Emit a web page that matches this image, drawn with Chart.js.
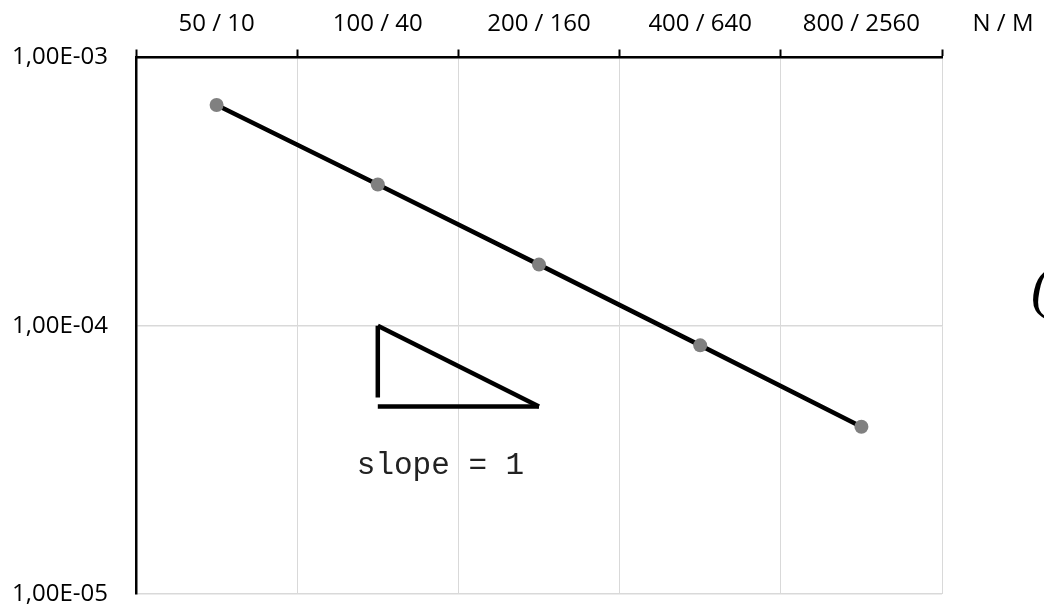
<!DOCTYPE html>
<html>
<head>
<meta charset="utf-8">
<script src="https://cdn.jsdelivr.net/npm/chart.js@4"></script>
<style>
  html, body { margin: 0; padding: 0; background: #fff; }
  #wrap { width: 1044px; height: 607px; position: relative; }
</style>
</head>
<body>
<div id="wrap"><canvas id="errChart"></canvas></div>
<script>
// N / M refinement levels and measured error
const labels = ['50 / 10', '100 / 40', '200 / 160', '400 / 640', '800 / 2560'];
const errors = [6.65e-4, 3.36e-4, 1.69e-4, 8.45e-5, 4.2e-5];
const yTicks = [1e-3, 1e-4, 1e-5];

// slope triangle (hypotenuse, base, vertical leg)
const triHypX = ['100 / 40', '200 / 160'];
const triHypY = [1e-4, 5e-5];
const triBaseX = ['100 / 40', '200 / 160'];
const triBaseY = [5e-5, 5e-5];
const triLegX = ['100 / 40', '100 / 40'];
const triLegY = [1e-4, 5.4e-5];

const pts = (xs, ys) => xs.map((x, i) => ({ x: x, y: ys[i] }));

function fmtSci(v) {
    const exp = Math.round(Math.log10(v));
    const mant = v / Math.pow(10, exp);
    const e = (exp < 0 ? '-' : '+') + String(Math.abs(exp)).padStart(2, '0');
    return mant.toFixed(2).replace('.', ',') + 'E' + e;
}

const triStyle = {
    borderColor: '#000', borderWidth: 4.5, pointRadius: 0,
    fill: false, tension: 0, borderCapStyle: 'butt'
};

// extra text: axis name, slope note, cropped glyph at right edge
const notes = {
    id: 'notes',
    afterDraw(chart) {
        const { ctx, scales: { x, y } } = chart;
        ctx.save();
        ctx.fillStyle = '#000';
        ctx.font = "24px 'Open Sans'";
        ctx.textAlign = 'center';
        ctx.textBaseline = 'middle';
        ctx.fillText('N / M', 1003, 24);

        ctx.fillStyle = '#222';
        ctx.font = "31px 'Liberation Mono'";
        ctx.textAlign = 'left';
        ctx.textBaseline = 'alphabetic';
        ctx.fillText('slope = 1', x.getPixelForValue(1) - 21, y.getPixelForValue(2.8e-5));

        ctx.fillStyle = '#000';
        ctx.font = "italic 58px 'Liberation Serif'";
        ctx.fillText('(', 1031, 306);
        ctx.restore();
    }
};

new Chart(document.getElementById('errChart'), {
    type: 'line',
    data: {
        labels: labels,
        datasets: [
            {
                data: errors,
                borderColor: '#000',
                borderWidth: 4.5,
                pointRadius: 7,
                pointBorderWidth: 0,
                pointBackgroundColor: '#808080',
                pointHoverRadius: 7,
                tension: 0,
                fill: false
            },
            Object.assign({ data: pts(triHypX, triHypY) }, triStyle),
            Object.assign({ data: pts(triBaseX, triBaseY) }, triStyle),
            Object.assign({ data: pts(triLegX, triLegY) }, triStyle)
        ]
    },
    options: {
        responsive: true, maintainAspectRatio: false,
        animation: false,
        layout: { padding: { left: 0, right: 102, top: 0, bottom: 13 } },
        plugins: { legend: { display: false }, tooltip: { enabled: false } },
        scales: {
            x: {
                position: 'top',
                offset: true,
                grid: { color: '#d9d9d9', lineWidth: 1, tickColor: '#000', tickWidth: 2, tickLength: 8, offset: true },
                border: { color: '#000', width: 2.5 },
                ticks: { color: '#000', font: { family: 'Open Sans', size: 24 }, padding: 11, maxRotation: 0 },
                afterFit(scale) { scale.height = 57.5; scale.paddingLeft = 0; scale.paddingRight = 0; }
            },
            y: {
                type: 'logarithmic',
                min: 1e-5, max: 1e-3,
                afterBuildTicks(scale) { scale.ticks = yTicks.map(v => ({ value: v })); },
                grid: { color: '#d9d9d9', lineWidth: 1.5, drawTicks: false },
                border: { color: '#000', width: 2.5 },
                ticks: {
                    color: '#000', font: { family: 'Open Sans', size: 24 }, padding: 28,
                    callback: v => fmtSci(v)
                },
                afterFit(scale) { scale.width = 136; scale.paddingTop = 0; scale.paddingBottom = 0; }
            }
        }
    },
    plugins: [notes]
});
</script>
</body>
</html>
